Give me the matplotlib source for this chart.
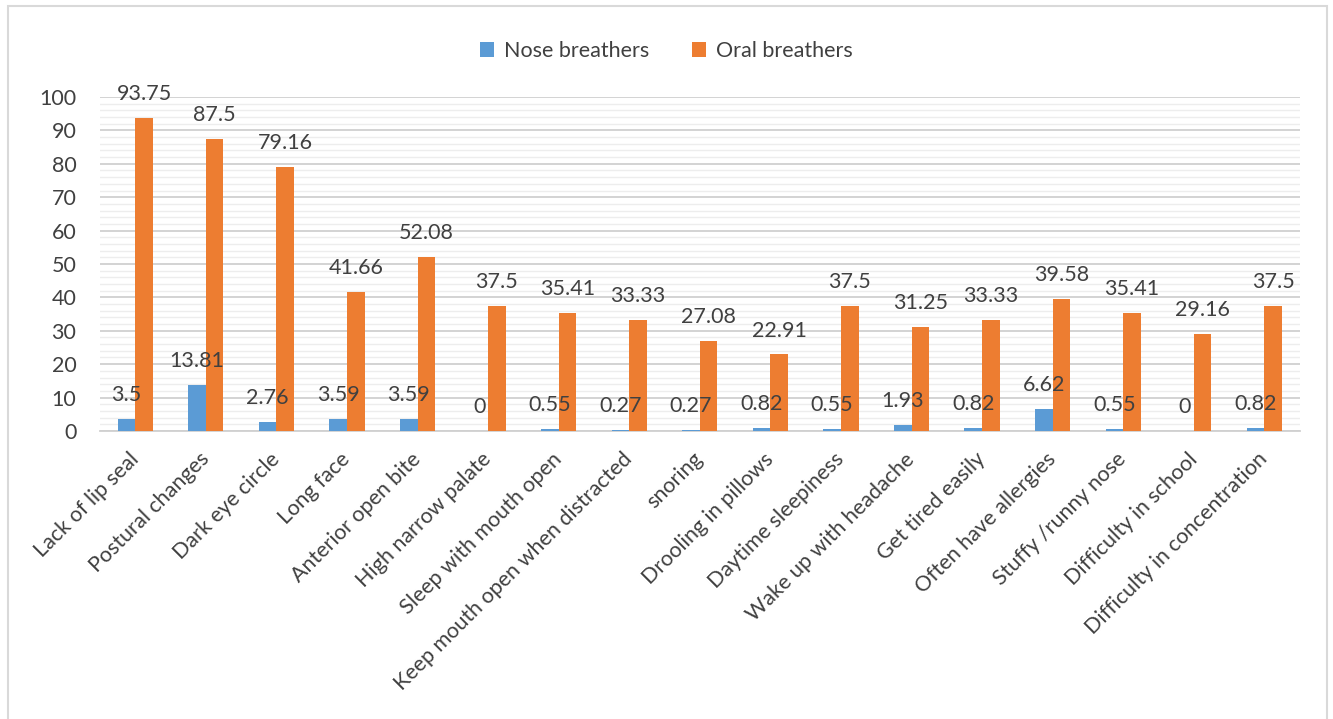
import matplotlib.pyplot as plt
import matplotlib.ticker as ticker
from matplotlib.patches import Rectangle
from matplotlib.transforms import ScaledTranslation
import numpy as np

categorias = ['Lack of lip seal', 'Postural changes', 'Dark eye circle', 'Long face',
              'Anterior open bite', 'High narrow palate', 'Sleep with mouth open',
              'Keep mouth open when distracted', 'snoring', 'Drooling in pillows',
              'Daytime sleepiness', 'Wake up with headache', 'Get tired easily',
              'Often have allergies', 'Stuffy /runny nose', 'Difficulty in school',
              'Difficulty in concentration']
nose = [3.5, 13.81, 2.76, 3.59, 3.59, 0, 0.55, 0.27, 0.27, 0.82, 0.55, 1.93, 0.82,
        6.62, 0.55, 0, 0.82]
oral = [93.75, 87.5, 79.16, 41.66, 52.08, 37.5, 35.41, 33.33, 27.08, 22.91, 37.5,
        31.25, 33.33, 39.58, 35.41, 29.16, 37.5]

plt.rcParams['font.family'] = ['Lato', 'DejaVu Sans']
cor_texto = '#404040'
fs = 15.5

fig = plt.figure(figsize=(13.33, 7.19), dpi=100)
ax = fig.add_axes([0.075, 0.4006, 0.9, 0.4645])

# Borda da figura (estilo Excel)
fig.patches.append(Rectangle((8 / 1333, -0.01), 1319 / 1333, 1 - 6 / 719 + 0.01,
                             transform=fig.transFigure, fill=False,
                             edgecolor='#D9D9D9', linewidth=1.5))

x = np.arange(len(categorias))
w = 0.25
b1 = ax.bar(x - w / 2, nose, w, color='#5B9BD5', label='Nose breathers', zorder=3)
b2 = ax.bar(x + w / 2, oral, w, color='#ED7D31', label='Oral breathers', zorder=3)

for barras in (b1, b2):
    ax.bar_label(barras, labels=[f'{v:g}' for v in barras.datavalues], padding=10,
                 fontsize=fs, color=cor_texto)

ax.set_xlim(-0.5, len(categorias) - 0.5)
ax.set_ylim(0, 100)
ax.yaxis.set_major_locator(ticker.MultipleLocator(10))
ax.yaxis.set_minor_locator(ticker.MultipleLocator(2))
ax.grid(axis='y', which='major', color='#D0D0D0', linewidth=1.3, zorder=0)
ax.grid(axis='y', which='minor', color='#EDEDED', linewidth=1.0, zorder=0)
ax.set_axisbelow(True)

for lado in ['top', 'right', 'left']:
    ax.spines[lado].set_visible(False)
ax.spines['bottom'].set_color('#D0D0D0')
ax.spines['bottom'].set_linewidth(1.3)

ax.set_xticks(x)
ax.set_xticklabels(categorias, rotation=45, ha='right', rotation_mode='anchor',
                   fontsize=fs, color=cor_texto)
ax.tick_params(axis='x', length=0, pad=13)
ax.tick_params(axis='y', which='both', length=0, labelsize=fs, labelcolor=cor_texto, pad=17)

# deslocar rótulos do eixo x um pouco para a esquerda
desloc = ScaledTranslation(-5 / 72, 0, fig.dpi_scale_trans)
for rotulo in ax.get_xticklabels():
    rotulo.set_transform(rotulo.get_transform() + desloc)

fig.legend(loc='upper center', bbox_to_anchor=(0.5, 0.97), ncol=2, frameon=False,
           fontsize=fs, labelcolor=cor_texto, handlelength=0.65, handleheight=0.65,
           columnspacing=2.0, handletextpad=0.45)

plt.savefig('out.png', dpi=100)
plt.close()
